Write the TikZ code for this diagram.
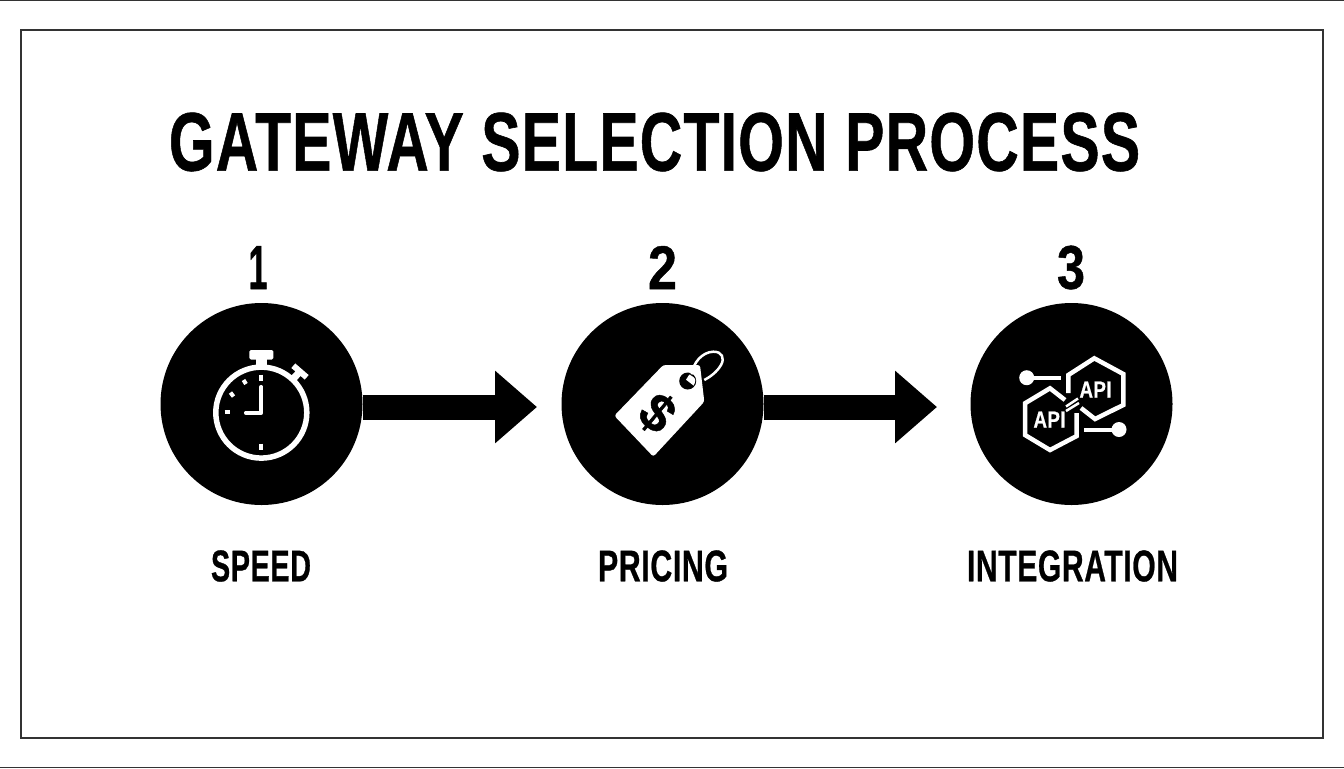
\documentclass[tikz,border=0pt]{standalone}
\usepackage{graphicx}
\usepackage{fontspec}
\setmainfont[BoldFeatures={FakeBold=0.8}]{Liberation Sans}
\usetikzlibrary{arrows.meta}
\newlength{\pxl}
\setlength{\pxl}{0.02cm}
\newcommand{\fitlabel}[3]{\resizebox{#1\pxl}{#2\pxl}{\bfseries\addfontfeatures{LetterSpace=2} #3}}
\definecolor{framegray}{HTML}{333333}
\tikzset{
    stepcircle/.style={circle,fill=black,minimum size=202\pxl,inner sep=0pt},
    bigarrow/.style={-{Triangle[length=0.84cm,width=1.4cm]},line width=25\pxl,black},
    plainlabel/.style={inner sep=0pt,text=black},
    iconline/.style={white,line cap=round,line join=round},
    hexline/.style={white,line width=4.5\pxl,line join=miter},
}
\begin{document}
\begin{tikzpicture}[x=\pxl,y=-\pxl]
    \useasboundingbox (0,0) rectangle (1344,768);
    %fondo y marco
    \fill[white] (0,0) rectangle (1344,768);
    \draw[framegray,line width=1.5\pxl] (21,30) rectangle (1323,738);
    \draw[framegray,line width=1.5\pxl] (0,0.5) -- (1344,0.5);
    \draw[framegray,line width=1.5\pxl] (0,767.3) -- (1344,767.3);

    %titulo
    \node[plainlabel] (title) at (654.5,142) {\fitlabel{971}{58}{GATEWAY SELECTION PROCESS}};

    %pasos
    \foreach \cx/\stepname/\numx/\num/\numw/\labx/\lab/\labw in {261.5/speed/258/1/19/261/SPEED/100, 662.5/pricing/662.5/2/29/663/PRICING/130, 1071.5/integration/1071/3/28/1072.5/INTEGRATION/211}
    {
        \node[stepcircle] (\stepname) at (\cx,404) {};
        \node[plainlabel] (num\stepname) at (\numx,267.5) {\fitlabel{\numw}{43}{\num}};
        \node[plainlabel] (lab\stepname) at (\labx,566) {\fitlabel{\labw}{31}{\lab}};
    }

    %flechas
    \coordinate (tipa) at (537,407);
    \coordinate (tipb) at (937,407);
    \draw[bigarrow] (speed.east |- tipa) -- (tipa);
    \draw[bigarrow] (pricing.east |- tipb) -- (tipb);

    %cronometro
    \draw[white,line width=5.5\pxl] (261.3,412.6) circle[radius=45.5\pxl];
    \fill[white,rounded corners=1.5\pxl] (249.3,350) rectangle (273.3,359.5);
    \fill[white] (256,359) rectangle (266.7,367);
    \draw[white,line width=6\pxl] (293.3,365.7) -- (306.7,377.3);
    \draw[white,line width=7\pxl] (300,371.5) -- (293,379);
    \draw[iconline,line width=4.2\pxl] (261.3,387) -- (261.3,412.7) -- (246,412.7);
    \foreach \xa/\ya/\xb/\yb in {261.3/374.5/261.3/381, 261.3/443.7/261.3/450, 224.7/411.7/230.3/411.7, 230.5/392.5/233.5/396.5, 243.5/380/246/384}
    \draw[white,line width=4\pxl] (\xa,\ya) -- (\xb,\yb);

    %etiqueta
    \fill[white,rounded corners=2.5\pxl] (614.3,415.7) -- (653.3,456.7) -- (704.3,401.7) -- (700,365) -- (663.3,365) -- cycle;
    \fill[black] (687.7,381) circle[radius=8.5\pxl];
    \fill[white] (686,379.7) -- (689.3,374.5) .. controls (692,375.5) and (695,378) .. (695.3,380) .. controls (695.3,382) and (694.5,384) .. (693.5,385.5) -- cycle;
    \draw[white,line width=2.5\pxl] (691.7,374.3) .. controls (693,363) and (702,352) .. (713.3,351.7) .. controls (722,351.5) and (725,358) .. (721,365) .. controls (717,372) and (710,377) .. (704.3,380);
    \node[inner sep=0pt,text=black,rotate=-40,font=\fontsize{30}{32}\selectfont\bfseries] (dollar) at (657.3,413.3) {\$};

    %hexagonos
    \draw[hexline] (1068.3,393) -- (1068.3,375) -- (1094.3,358.3) -- (1123.3,374) -- (1123.3,405) -- (1095,419) -- (1081,408);
    \draw[hexline] (1065,400) -- (1050,388.3) -- (1025,403.3) -- (1025,435) -- (1050,450) -- (1076.7,436) -- (1076.7,413);
    \draw[white,line width=2.5\pxl] (1066,406.5) -- (1078,398.5);
    \draw[white,line width=2.5\pxl] (1066,411) -- (1079,403);
    \draw[white,line width=4.5\pxl] (1026.7,378) -- (1061,378);
    \fill[white] (1026.7,377.7) circle[radius=7.5\pxl];
    \draw[white,line width=4.5\pxl] (1084.3,430) -- (1119,430);
    \fill[white] (1119,429.5) circle[radius=7.5\pxl];
    \node[inner sep=0pt,text=white] (apia) at (1049.5,419.5) {\fitlabel{32}{16}{API}};
    \node[inner sep=0pt,text=white] (apib) at (1095.5,389.5) {\fitlabel{32}{16}{API}};
\end{tikzpicture}
\end{document}
